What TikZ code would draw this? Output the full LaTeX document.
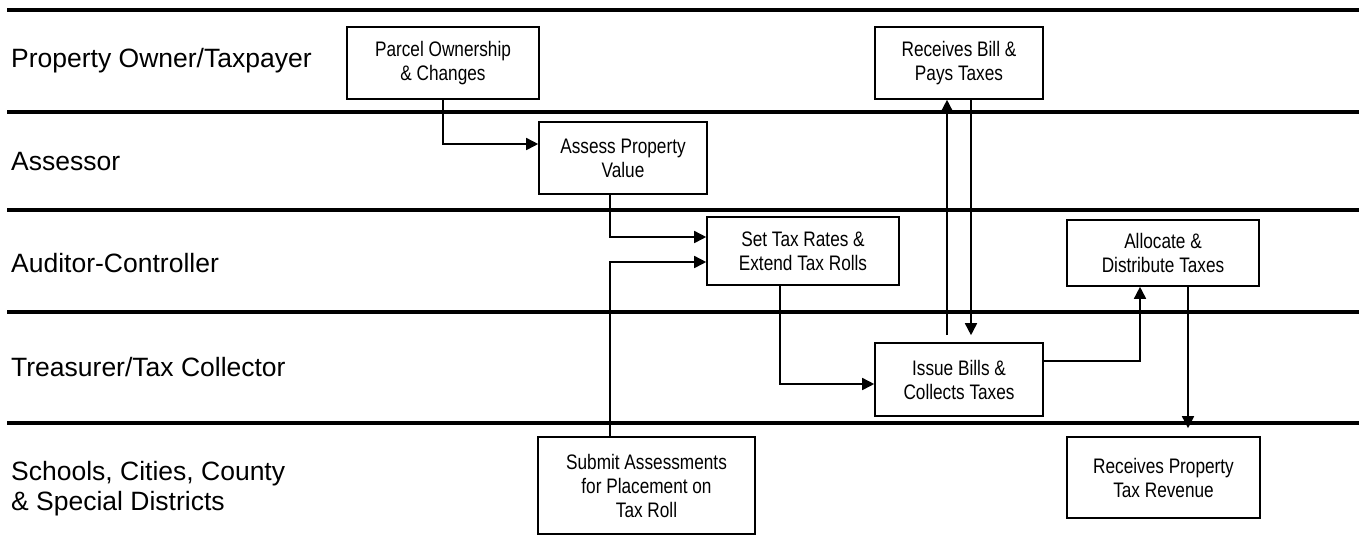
\documentclass[tikz,border=0pt]{standalone}
\usepackage{fontspec}
\setmainfont{Liberation Sans}
\newfontfamily\narrowfont[FakeStretch=0.82]{Liberation Sans}
\usetikzlibrary{arrows.meta}
\begin{document}
\begin{tikzpicture}[x=1pt,y=-1pt,
  lane/.style={line width=3.6pt},
  lanelabel/.style={anchor=base west,inner sep=0pt,font=\fontsize{26.5}{30}\selectfont},
  box/.style={draw,line width=1.6pt,align=center,inner sep=0pt,
    font=\narrowfont\fontsize{21}{24}\selectfont},
  arr/.style={line width=1.6pt,-{Triangle[length=12pt,width=12pt]}}]
\useasboundingbox (0,0) rectangle (1359,550);
% lanes
\foreach \yy/\nm in {10/l1,112/l2,210/l3,312/l4,423/l5}{
  \coordinate (\nm a) at (7,\yy);
  \coordinate (\nm b) at (1359,\yy);
  \draw[lane] (\nm a) -- (\nm b);
}
% lane labels
\node[lanelabel] (lab1) at (11,67) {Property Owner/Taxpayer};
\node[lanelabel] (lab2) at (11,170) {Assessor};
\node[lanelabel] (lab3) at (11,272) {Auditor-Controller};
\node[lanelabel] (lab4) at (11,376) {Treasurer/Tax Collector};
\node[lanelabel,anchor=west,align=left] (lab5) at (11,489) {Schools, Cities, County\\\& Special Districts};
% boxes
\node[box,minimum width=192pt,minimum height=72pt] (parcel) at (443,63) {Parcel Ownership\\\& Changes};
\node[box,minimum width=168pt,minimum height=72pt] (assess) at (623,158) {Assess Property\\Value};
\node[box,minimum width=192pt,minimum height=68pt] (set) at (803,251) {Set Tax Rates \&\\Extend Tax Rolls};
\node[box,minimum width=168pt,minimum height=72pt] (bill) at (959,63) {Receives Bill \&\\Pays Taxes};
\node[box,minimum width=168pt,minimum height=73pt] (issue) at (959,379.5) {Issue Bills \&\\Collects Taxes};
\node[box,minimum width=192pt,minimum height=66pt] (alloc) at (1163,253) {Allocate \&\\Distribute Taxes};
\node[box,minimum width=217pt,minimum height=97pt] (submit) at (646.5,485.5) {Submit Assessments\\for Placement on\\Tax Roll};
\node[box,minimum width=193pt,minimum height=81pt] (recprop) at (1163.5,477.5) {Receives Property\\Tax Revenue};
% connectors
\draw[arr] (parcel.south) |- ([yshift=14pt]assess.west);
\draw[arr] ([xshift=-13pt]assess.south) |- ([yshift=14pt]set.west);
\draw[arr] ([xshift=-36.5pt]submit.north) |- ([yshift=-11pt]set.west);
\draw[arr] ([xshift=-23pt]set.south) |- ([yshift=-4.5pt]issue.west);
\draw[arr] ([xshift=-12pt,yshift=7pt]issue.north) -- ([xshift=-12pt]bill.south);
\draw[arr] ([xshift=12pt]bill.south) -- ([xshift=12pt,yshift=7pt]issue.north);
\draw[arr] ([yshift=18.5pt]issue.east) -| ([xshift=-23pt]alloc.south);
\draw[arr] ([xshift=25pt]alloc.south) -- ([xshift=24.5pt,yshift=8pt]recprop.north);
\end{tikzpicture}
\end{document}
